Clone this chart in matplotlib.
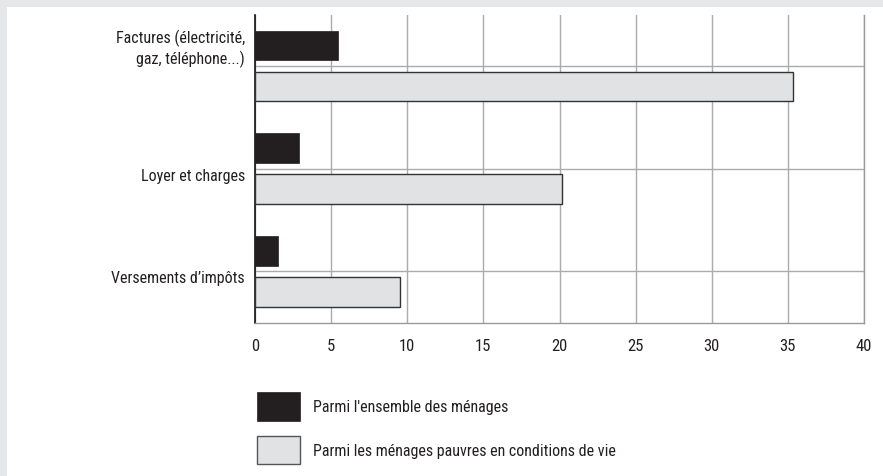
import matplotlib
matplotlib.use('Agg')
import matplotlib.pyplot as plt
from matplotlib import font_manager, transforms
from matplotlib.patches import Patch, Rectangle

# Data (%)
categories = ['Factures (électricité,\ngaz, téléphone...)', 'Loyer et charges', "Versements d\u2019impôts"]
ensemble = [5.45, 2.9, 1.5]
pauvres = [35.35, 20.15, 9.5]
series_labels = ["Parmi l'ensemble des ménages", 'Parmi les ménages pauvres en conditions de vie']
xticks = [0, 5, 10, 15, 20, 25, 30, 35, 40]
# vertical offset of each category label (last-line baseline) relative to its gridline
label_offsets = [-0.027, 0.113, 0.105]

installed = {f.name for f in font_manager.fontManager.ttflist}
family = next((f for f in ['Liberation Sans Narrow', 'Roboto Condensed', 'Liberation Sans'] if f in installed), 'DejaVu Sans')
plt.rcParams['font.family'] = [family, 'DejaVu Sans']
plt.rcParams['font.size'] = 12

TEXT = '#231f20'
BLACK = '#231f20'
GREY = '#e1e2e4'
GRID = '#ababab'

fig = plt.figure(figsize=(8.83, 4.77), dpi=100, facecolor='#e6e7e8')
fig.patches.append(Rectangle((7 / 883, 0), 1, 1 - 8 / 477, transform=fig.transFigure,
                             facecolor='white', edgecolor='none', zorder=-5))

ax = fig.add_axes([255 / 883, 1 - 323.5 / 477, 609 / 883, 307.8 / 477])
ax.set_facecolor('none')

ys = list(range(len(categories)))
h = 0.29
ax.barh([y - 0.2 for y in ys], ensemble, height=h, color=BLACK, edgecolor=BLACK, linewidth=0.5, zorder=3)
ax.barh([y + 0.2 for y in ys], pauvres, height=h, color=GREY, edgecolor='#333333', linewidth=1.0, zorder=3)

ax.set_xlim(0, 40)
ax.set_ylim(2.5, -0.5)
ax.set_xticks(xticks)
ax.set_xticklabels([str(t) for t in xticks], color=TEXT, fontsize=12)
ax.set_yticks(ys)
ax.set_yticklabels([''] * len(ys))
ax.tick_params(length=0)
ax.tick_params(axis='x', pad=11)

ax.set_axisbelow(True)
ax.grid(True, color=GRID, linewidth=1.0)

ax.spines['top'].set_visible(False)
ax.spines['left'].set_color('#111111')
ax.spines['left'].set_linewidth(1.2)
for s in ['bottom', 'right']:
    ax.spines[s].set_color('#9a9a9a')
    ax.spines[s].set_linewidth(1.0)

trans = transforms.blended_transform_factory(ax.transAxes, ax.transData)
for y, lab, off in zip(ys, categories, label_offsets):
    ax.text(-10 / 609, y + off, lab, transform=trans, ha='right', va='baseline',
            multialignment='right', color=TEXT, fontsize=11.5, linespacing=1.3)

handles = [Patch(facecolor=BLACK, edgecolor=BLACK, linewidth=0.5),
           Patch(facecolor=GREY, edgecolor='#555555', linewidth=1.0)]
fig.legend(handles, series_labels, loc='upper left',
           bbox_to_anchor=(256.7 / 883, 1 - 393.3 / 477), frameon=False,
           borderpad=0, borderaxespad=0, handlelength=2.73, handleheight=2.34,
           handletextpad=0.82, labelspacing=0.95, fontsize=11.5, labelcolor=TEXT)

fig.savefig('out.png', dpi=100, facecolor=fig.get_facecolor())
